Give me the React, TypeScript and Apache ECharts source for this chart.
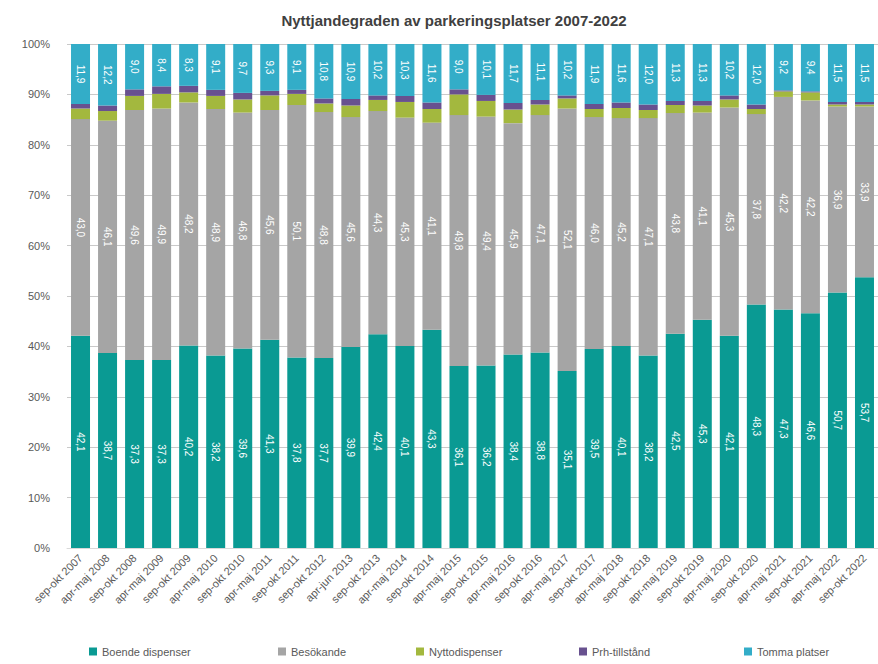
import React, { useEffect, useRef } from "react";
import * as echarts from "echarts";

const categories = [
  "sep-okt 2007", "apr-maj 2008", "sep-okt 2008", "apr-maj 2009", "sep-okt 2009",
  "apr-maj 2010", "sep-okt 2010", "apr-maj 2011", "sep-okt 2011", "sep-okt 2012",
  "apr-jun 2013", "sep-okt 2013", "apr-maj 2014", "sep-okt 2014", "apr-maj 2015",
  "sep-okt 2015", "apr-maj 2016", "sep-okt 2016", "apr-maj 2017", "sep-okt 2017",
  "apr-maj 2018", "sep-okt 2018", "apr-maj 2019", "sep-okt 2019", "apr-maj 2020",
  "sep-okt 2020", "apr-maj 2021", "sep-okt 2021", "apr-maj 2022", "sep-okt 2022",
];

const boende = [42.1, 38.7, 37.3, 37.3, 40.2, 38.2, 39.6, 41.3, 37.8, 37.7, 39.9, 42.4, 40.1, 43.3, 36.1, 36.2, 38.4, 38.8, 35.1, 39.5, 40.1, 38.2, 42.5, 45.3, 42.1, 48.3, 47.3, 46.6, 50.7, 53.7];
const besokande = [43.0, 46.1, 49.6, 49.9, 48.2, 48.9, 46.8, 45.6, 50.1, 48.8, 45.6, 44.3, 45.3, 41.1, 49.8, 49.4, 45.9, 47.1, 52.1, 46.0, 45.2, 47.1, 43.8, 41.1, 45.3, 37.8, 42.2, 42.2, 36.9, 33.9];
const nyttodispenser = [2.1, 1.9, 2.8, 2.9, 2.0, 2.6, 2.6, 2.9, 2.2, 1.7, 2.3, 2.2, 3.1, 2.7, 4.1, 3.1, 2.7, 2.1, 2.0, 1.6, 2.0, 1.6, 1.6, 1.4, 1.6, 1.0, 1.1, 1.6, 0.4, 0.4];
const prh = [0.9, 1.1, 1.3, 1.5, 1.3, 1.2, 1.3, 0.9, 0.8, 1.0, 1.3, 0.9, 1.2, 1.3, 1.0, 1.2, 1.3, 0.9, 0.6, 1.0, 1.1, 1.1, 0.8, 0.9, 0.8, 0.9, 0.2, 0.2, 0.5, 0.5];
const tomma = [11.9, 12.2, 9.0, 8.4, 8.3, 9.1, 9.7, 9.3, 9.1, 10.8, 10.9, 10.2, 10.3, 11.6, 9.0, 10.1, 11.7, 11.1, 10.2, 11.9, 11.6, 12.0, 11.3, 11.3, 10.2, 12.0, 9.2, 9.4, 11.5, 11.5];

const seriesNames = ["Boende dispenser", "Besökande", "Nyttodispenser", "Prh-tillstånd", "Tomma platser"];
const colors = ["#0a9a93", "#a5a5a5", "#a3b83e", "#68518f", "#33adc8"];
const legendLeft = [84, 273, 411, 574, 739];

const FONT = "'Liberation Sans', Arial, sans-serif";

export default function App() {
  const ref = useRef<HTMLDivElement>(null);
  useEffect(() => {
    if (!ref.current) return;
    const chart = echarts.init(ref.current, undefined, { renderer: "svg" });
    const fmt = (p: any) => Number(p.value).toFixed(1).replace(".", ",");
    const valueLabel = {
      show: true,
      position: "inside",
      rotate: -90,
      align: "center",
      verticalAlign: "middle",
      color: "#ffffff",
      fontSize: 10,
      fontFamily: FONT,
      formatter: fmt,
    };
    const datasets = [boende, besokande, nyttodispenser, prh, tomma];
    const labelled = [true, true, false, false, true];
    chart.setOption({
      animation: false,
      textStyle: { fontFamily: FONT },
      title: {
        text: "Nyttjandegraden av parkeringsplatser 2007-2022",
        left: 449,
        textAlign: "center",
        top: 8,
        textStyle: { fontSize: 15, fontWeight: "bold", color: "#404040", fontFamily: FONT },
      },
      legend: seriesNames.map((n, i) => ({
        data: [n],
        left: legendLeft[i],
        top: 641,
        itemWidth: 8,
        itemHeight: 8,
        itemGap: 5,
        icon: "rect",
        textStyle: { fontSize: 11, color: "#595959", fontFamily: FONT },
      })),
      grid: { left: 67, top: 44, width: 814, height: 504, containLabel: false },
      xAxis: {
        type: "category",
        data: categories,
        axisTick: { show: false },
        axisLine: { show: true, lineStyle: { color: "#d9d9d9" } },
        axisLabel: {
          rotate: 45,
          interval: 0,
          fontSize: 11,
          color: "#595959",
          margin: 8,
          fontFamily: FONT,
        },
      },
      yAxis: {
        type: "value",
        min: 0,
        max: 100,
        interval: 10,
        axisLine: { show: false },
        axisTick: { show: false },
        splitLine: { lineStyle: { color: "#c9c9c9" } },
        axisLabel: {
          formatter: "{value}%",
          fontSize: 11,
          color: "#595959",
          margin: 17,
          fontFamily: FONT,
        },
      },
      series: datasets.map((d, i) => ({
        name: seriesNames[i],
        type: "bar",
        stack: "total",
        data: d,
        barWidth: 19,
        itemStyle: { color: colors[i] },
        label: labelled[i] ? valueLabel : { show: false },
      })),
    });
    return () => chart.dispose();
  }, []);
  return (
    <div
      ref={ref}
      style={{ position: "absolute", left: 0, top: 0, width: 878, height: 664, background: "#ffffff" }}
    />
  );
}
